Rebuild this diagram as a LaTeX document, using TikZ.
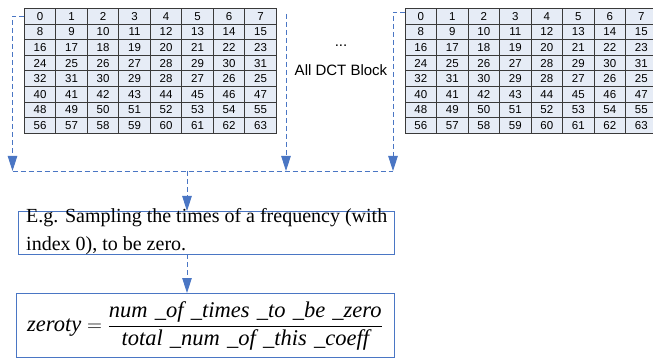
\documentclass[tikz,border=0pt]{standalone}
\usepackage{fontspec}
\usepackage{amsmath}
\setmainfont{Liberation Serif}
\setsansfont{Liberation Sans}
\usetikzlibrary{arrows.meta,calc}
\definecolor{flow}{HTML}{4A76C4}
\definecolor{cellfill}{HTML}{E6ECF6}
\definecolor{cellline}{HTML}{3A3A3A}
\tikzset{
  cell/.style={draw=cellline, line width=0.8pt, fill=cellfill, minimum width=31.5pt,
    minimum height=15.65pt, inner sep=0pt, outer sep=0pt,
    font=\sffamily\fontsize{11.5}{12}\selectfont},
  dline/.style={draw=flow, line width=0.9pt, dash pattern=on 5pt off 3pt},
  darrow/.style={dline, -{Triangle[width=9.5pt,length=15pt,fill=flow]}},
  infobox/.style={draw=flow, line width=0.9pt, inner sep=0pt, outer sep=0pt, anchor=north west}
}
\newcommand{\dctgrid}[3]{% name prefix, left x, top y
  \foreach \r in {0,...,7}{
    \foreach \c in {0,...,7}{
      \pgfmathtruncatemacro{\v}{\r==4 ? 32-\c : 8*\r+\c}
      \node[cell] (#1-\r-\c) at ({#2+(\c+0.5)*31.5},{#3+(\r+0.5)*15.65}) {\v};
    }
  }
}
% spaced underscore joining two words of the formula
\newcommand{\us}{\hspace{0.32em}\_}
\begin{document}
\begin{tikzpicture}[x=1pt,y=-1pt]
\useasboundingbox (0,0) rectangle (653,358);
\clip (0,0) rectangle (653,358);

% the two DCT coefficient blocks
\dctgrid{L}{24.3}{8.3}
\dctgrid{R}{405}{8.3}

\node[font=\sffamily\fontsize{15}{15}\selectfont] (dots) at (341,46) {...};
\node[font=\sffamily\fontsize{15}{15}\selectfont] (alldct) at (341,70) {All DCT Block};

% junction points of the dashed collector
\coordinate (jl) at (12.5,171);
\coordinate (jm) at (286,171);
\coordinate (jr) at (393,171);
\coordinate (mtop) at (286,14);
\coordinate (rtop) at (405,12);
\coordinate (jd) at (187,171);

% sampling description and the ratio formula
\node[infobox, minimum width=376pt, minimum height=43pt] (samp) at (18,211) {};
\node[anchor=north west, align=left, inner sep=0pt,
  font=\fontsize{20}{28}\selectfont] (samptext) at (26,208.5)
  {E.g. Sampling the times of a frequency (with\\index 0), to be zero.};
\node[infobox, minimum width=378pt, minimum height=64pt] (ratio) at (16,293) {};
\node[font=\fontsize{22.5}{26}\selectfont] (formula) at (205,326)
  {$\text{\itshape zeroty} = \dfrac{\text{\itshape num\us of\us times\us to\us be\us zero}}
     {\text{\itshape total\us num\us of\us this\us coeff}}$};

% dashed flow lines
\draw[darrow] (L-0-0.west) -| (jl);
\draw[darrow] (mtop) -- (jm);
\draw[darrow] (rtop) -| (jr);
\draw[dline] (jl) -- (jr);
\draw[darrow] (jd) -- (jd |- samp.north);
\draw[darrow] (jd |- samp.south) -- (jd |- ratio.north);
\end{tikzpicture}
\end{document}
